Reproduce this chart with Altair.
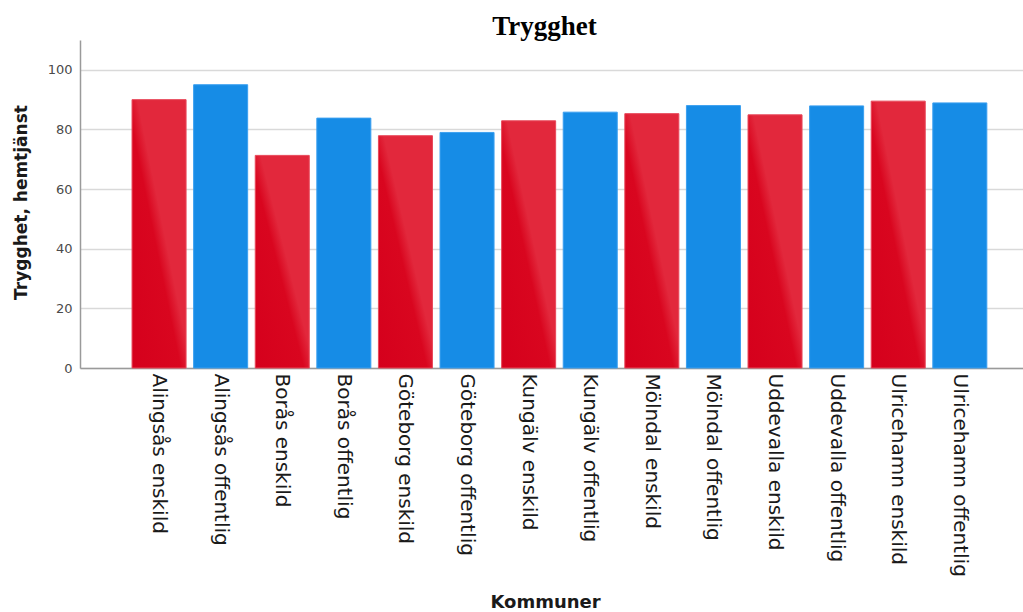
import altair as alt
import pandas as pd

# Bar categories, in display order
kommuner = [
    "Alingsås enskild", "Alingsås offentlig",
    "Borås enskild", "Borås offentlig",
    "Göteborg enskild", "Göteborg offentlig",
    "Kungälv enskild", "Kungälv offentlig",
    "Mölndal enskild", "Mölndal offentlig",
    "Uddevalla enskild", "Uddevalla offentlig",
    "Ulricehamn enskild", "Ulricehamn offentlig",
]
# Share feeling safe with home care (%)
trygghet = [90.0, 95.0, 71.3, 83.8, 77.9, 79.0, 82.9, 85.8,
            85.3, 88.0, 84.9, 87.9, 89.5, 88.9]
# Private (enskild) or public (offentlig) provider
regi = ["enskild", "offentlig"] * 7

y_ticks = [0, 20, 40, 60, 80, 100]

df = pd.DataFrame({"kommun": kommuner, "trygghet": trygghet, "regi": regi})

FONT = "DejaVu Sans"

# Red bars carry a diagonal two-tone shading
red_fill = alt.Gradient(
    gradient="linear", x1=0, y1=1, x2=1, y2=0,
    stops=[
        alt.GradientStop(color="#d5001c", offset=0),
        alt.GradientStop(color="#d9061f", offset=0.45),
        alt.GradientStop(color="#e2283c", offset=0.55),
        alt.GradientStop(color="#e2283c", offset=1),
    ],
)
blue_fill = "#168ce6"

x_enc = alt.X(
    "kommun:N",
    sort=kommuner,
    scale=alt.Scale(domain=kommuner, paddingInner=0.123, paddingOuter=0.716, align=0.59),
    axis=alt.Axis(
        title="Kommuner", labelAngle=90, labelAlign="left", labelBaseline="middle",
        labelFont=FONT, labelFontSize=20, labelColor="#1a1a1a", labelPadding=5,
        ticks=False, grid=False, domainColor="#9a9a9a", domainWidth=1.5,
        titleFont=FONT, titleFontSize=18, titleFontWeight="bold", titleColor="#1a1a1a",
        titleX=465, titleY=234, titleAnchor="middle", titleAlign="center",
        titleBaseline="middle", labelLimit=400,
    ),
)
y_enc = alt.Y(
    "trygghet:Q",
    scale=alt.Scale(domain=[0, 110], nice=False),
    axis=alt.Axis(
        values=y_ticks, title="Trygghet, hemtjänst",
        labelFont=FONT, labelFontSize=13, labelColor="#4a4a4a", labelPadding=8,
        ticks=False, grid=True, gridColor="#d9d9d9", gridWidth=1.5,
        domainColor="#9a9a9a", domainWidth=1.5,
        titleFont=FONT, titleFontSize=17, titleFontWeight="bold", titleColor="#1a1a1a",
        titleAngle=270, titleX=-59, titleY=162, titleAlign="center",
        titleBaseline="middle",
    ),
)

base = alt.Chart(df).encode(x=x_enc, y=y_enc)

red_bars = base.transform_filter(alt.datum.regi == "enskild").mark_bar(
    color=red_fill, stroke="#e8485a", strokeWidth=1
)
blue_bars = base.transform_filter(alt.datum.regi == "offentlig").mark_bar(
    color=blue_fill, stroke="#3a9ff0", strokeWidth=1
)

chart = (
    alt.layer(red_bars, blue_bars)
    .properties(
        width=943,
        height=328,
        autosize=alt.AutoSizeParams(type="none"),
        padding={"left": 80, "top": 40, "right": 0, "bottom": 244},
        title=alt.TitleParams(
            "Trygghet", font="Liberation Serif", fontSize=27, fontWeight="bold",
            color="#000000", anchor="middle", dx=-7, offset=-1,
        ),
        view=alt.ViewBackground(stroke="transparent"),
    )
    .configure_view(stroke="transparent", strokeWidth=0)
    .configure(background="white")
)

chart.save("out.html", embed_options={"renderer": "svg", "actions": False})
